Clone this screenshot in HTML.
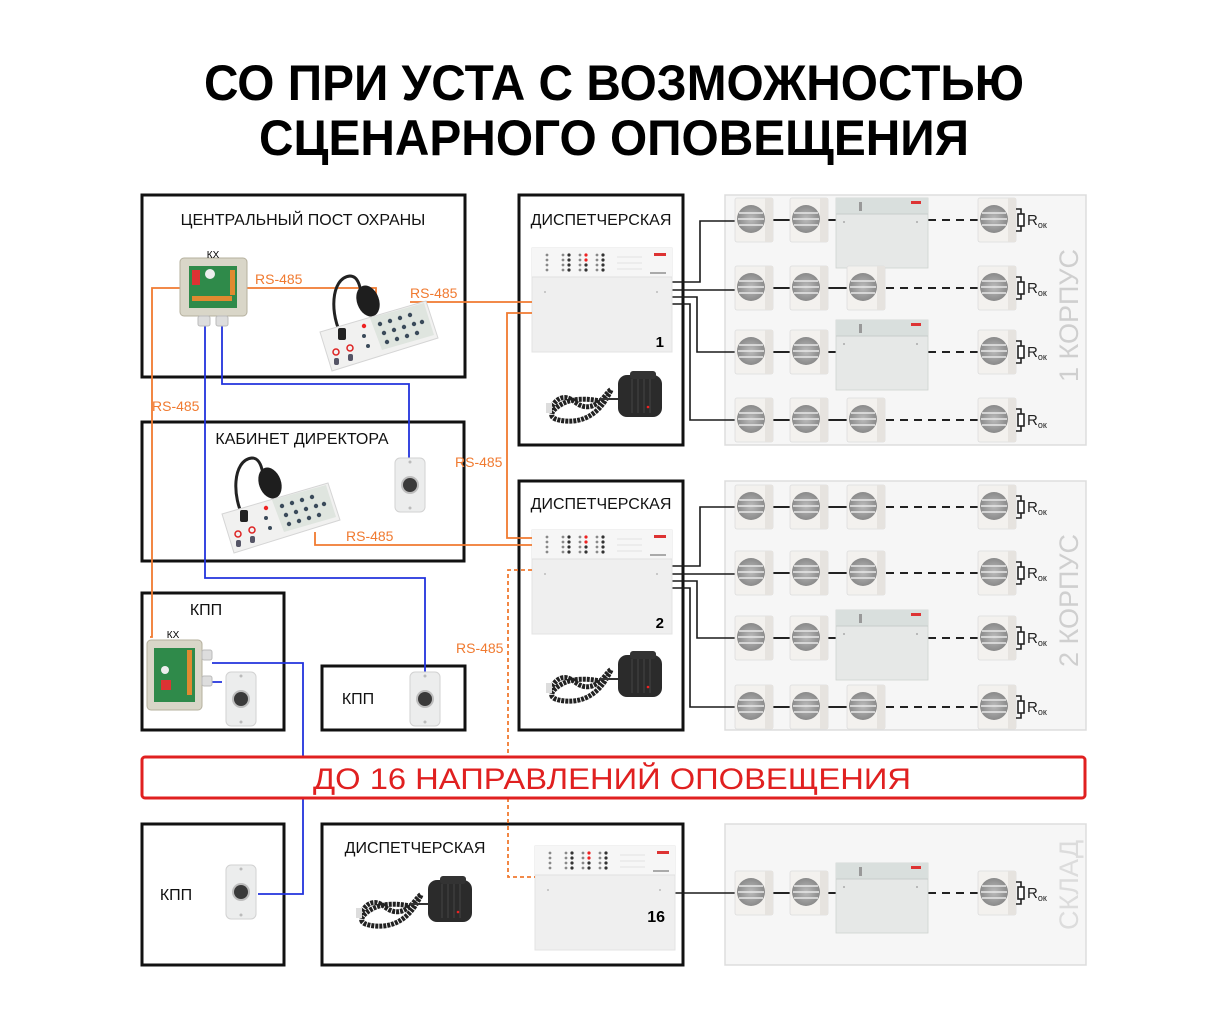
<!DOCTYPE html>
<html><head><meta charset="utf-8"><style>
html,body{margin:0;padding:0;background:#fff;}
svg{display:block;}
text{font-family:"Liberation Sans","DejaVu Sans",sans-serif;}
</style></head><body>
<svg width="1229" height="1024" viewBox="0 0 1229 1024" xmlns="http://www.w3.org/2000/svg">
<defs>
  <radialGradient id="spg" cx="50%" cy="50%" r="50%">
    <stop offset="0" stop-color="#bbb"/><stop offset="1" stop-color="#8a8a8a"/>
  </radialGradient>
  <g id="spk">
    <rect x="0" y="-22" width="38" height="44" rx="2" fill="#f3f1ee" stroke="#ddd" stroke-width="0.8"/>
    <rect x="30" y="-22" width="8" height="44" fill="#e6e3df"/>
    <circle cx="16" cy="-1" r="14" fill="url(#spg)"/>
    <g stroke="#e8e8e8" stroke-width="1.6">
      <line x1="4" y1="-7" x2="28" y2="-7"/><line x1="3" y1="-1" x2="29" y2="-1"/><line x1="4" y1="5" x2="28" y2="5"/>
    </g>
  </g>
  <g id="rok">
    <path d="M0,-11 H5 V11 H0" fill="none" stroke="#222" stroke-width="1.6"/>
    <rect x="2" y="-6" width="6" height="12" fill="#fff" stroke="#222" stroke-width="1.6"/>
    <text x="11" y="5" font-size="15" fill="#222">R<tspan font-size="9" dy="3">ок</tspan></text>
  </g>
  <g id="amp">
    <rect x="0" y="0" width="92" height="70" fill="#e6e8e7" stroke="#cfd2d0" stroke-width="0.8"/>
    <rect x="0" y="0" width="92" height="16" fill="#d9dfdd"/>
    <line x1="0" y1="16" x2="92" y2="16" stroke="#c8cdcb"/>
    <rect x="23" y="4" width="3" height="9" fill="#999"/>
    <rect x="75" y="3" width="10" height="3" fill="#d33"/>
    <circle cx="8" cy="24" r="1" fill="#aaa"/><circle cx="81" cy="24" r="1" fill="#aaa"/>
  </g>
  <g id="panel">
    <rect x="0" y="0" width="140" height="104" fill="#efefef" stroke="#e3e3e3"/>
    <rect x="0" y="0" width="140" height="29" fill="#f6f6f6"/>
    <line x1="0" y1="29" x2="140" y2="29" stroke="#e0e0e0"/>
    <g fill="#888">
      <circle cx="15" cy="7" r="1.4"/><circle cx="15" cy="12" r="1.4"/><circle cx="15" cy="17" r="1.4"/><circle cx="15" cy="22" r="1.4"/>
      <circle cx="31" cy="7" r="1.4"/><circle cx="31" cy="12" r="1.4"/><circle cx="31" cy="17" r="1.4"/><circle cx="31" cy="22" r="1.4"/>
      <circle cx="37" cy="7" r="1.6" fill="#333"/><circle cx="37" cy="12" r="1.6" fill="#333"/><circle cx="37" cy="17" r="1.6" fill="#333"/><circle cx="37" cy="22" r="1.6" fill="#333"/>
      <circle cx="48" cy="7" r="1.4"/><circle cx="48" cy="12" r="1.4"/><circle cx="48" cy="17" r="1.4"/><circle cx="48" cy="22" r="1.4"/>
      <circle cx="54" cy="7" r="1.6" fill="#e22"/><circle cx="54" cy="12" r="1.6" fill="#e22"/><circle cx="54" cy="17" r="1.6" fill="#333"/><circle cx="54" cy="22" r="1.6" fill="#333"/>
      <circle cx="65" cy="7" r="1.4"/><circle cx="65" cy="12" r="1.4"/><circle cx="65" cy="17" r="1.4"/><circle cx="65" cy="22" r="1.4"/>
      <circle cx="71" cy="7" r="1.6" fill="#333"/><circle cx="71" cy="12" r="1.6" fill="#333"/><circle cx="71" cy="17" r="1.6" fill="#333"/><circle cx="71" cy="22" r="1.6" fill="#333"/>
    </g>
    <g stroke="#ccc" stroke-width="0.6"><line x1="85" y1="9" x2="110" y2="9"/><line x1="85" y1="15" x2="110" y2="15"/><line x1="85" y1="21" x2="110" y2="21"/></g>
    <rect x="122" y="5" width="12" height="3" fill="#d33"/>
    <rect x="118" y="24" width="16" height="2" fill="#aaa"/>
    <circle cx="13" cy="44" r="1" fill="#bbb"/><circle cx="125" cy="44" r="1" fill="#bbb"/>
  </g>
  <g id="mic">
    <path d="M10,45 q10,-20 25,-8 q15,12 30,-6 q12,-15 0,5 q-15,22 -40,20 q-20,-2 -10,-12 q15,-14 45,-8" fill="none" stroke="#222" stroke-width="5" stroke-dasharray="3 1"/>
    <path d="M60,34 H80" stroke="#333" stroke-width="2"/>
    <rect x="6" y="38" width="6" height="10" fill="#ddd"/>
    <rect x="78" y="10" width="44" height="42" rx="9" fill="#2b2b2b"/>
    <rect x="90" y="6" width="26" height="8" rx="3" fill="#333"/>
    <g stroke="#444" stroke-width="1"><line x1="92" y1="14" x2="92" y2="48"/><line x1="98" y1="14" x2="98" y2="48"/><line x1="104" y1="14" x2="104" y2="48"/><line x1="110" y1="14" x2="110" y2="48"/></g>
    <circle cx="108" cy="42" r="1.3" fill="#e22"/>
  </g>
  <g id="btn">
    <rect x="0" y="0" width="30" height="54" rx="5" fill="#eceded" stroke="#d2d2d2"/>
    <circle cx="15" cy="4" r="1.5" fill="#bbb"/><circle cx="15" cy="50" r="1.5" fill="#bbb"/>
    <circle cx="15" cy="27" r="9" fill="#bdbdbd"/>
    <circle cx="15" cy="27" r="7" fill="#3a3a3a"/>
  </g>
  <g id="kx">
    <rect x="0" y="0" width="67" height="58" rx="4" fill="#d9d6c8" stroke="#b5b09e"/>
    <rect x="9" y="8" width="48" height="42" fill="#2f8a4a"/>
    <rect x="12" y="12" width="8" height="15" fill="#d33"/>
    <circle cx="30" cy="16" r="5" fill="#eee"/>
    <g fill="#e08a30"><rect x="12" y="38" width="40" height="5"/><rect x="50" y="12" width="5" height="25"/></g>
    <rect x="18" y="58" width="12" height="10" rx="2" fill="#ddd" stroke="#bbb"/>
    <rect x="36" y="58" width="12" height="10" rx="2" fill="#ddd" stroke="#bbb"/>
  </g>
  <g id="kx2">
    <rect x="0" y="0" width="55" height="70" rx="4" fill="#d9d6c8" stroke="#b5b09e"/>
    <rect x="7" y="8" width="41" height="54" fill="#2f8a4a"/>
    <rect x="14" y="40" width="10" height="10" fill="#d33"/>
    <circle cx="18" cy="30" r="4" fill="#eee"/>
    <rect x="40" y="10" width="5" height="45" fill="#e08a30"/>
    <rect x="55" y="10" width="10" height="10" rx="2" fill="#ddd" stroke="#bbb"/>
    <rect x="55" y="36" width="10" height="10" rx="2" fill="#ddd" stroke="#bbb"/>
  </g>
  <g id="console">
    <path d="M22,40 C10,20 10,-18 30,-20 C38,-20 40,-10 42,0" fill="none" stroke="#222" stroke-width="3"/>
    <ellipse cx="48" cy="5" rx="11" ry="16" transform="rotate(-20 48 5)" fill="#1e1e1e"/>
    <polygon points="0,36 106,5 118,42 12,75" fill="#f1f1f0" stroke="#d5d5d5"/>
    <polygon points="50,22 104,7 114,39 62,54" fill="#dfe5df"/>
    <rect x="18" y="32" width="8" height="12" rx="2" fill="#222"/>
    <g fill="#3a4a5a">
      <circle cx="60" cy="28" r="2.2"/><circle cx="70" cy="25" r="2.2"/><circle cx="80" cy="22" r="2.2"/><circle cx="90" cy="19" r="2.2"/>
      <circle cx="64" cy="37" r="2.2"/><circle cx="74" cy="34" r="2.2"/><circle cx="84" cy="31" r="2.2"/><circle cx="94" cy="28" r="2.2"/>
      <circle cx="67" cy="46" r="2.2"/><circle cx="77" cy="43" r="2.2"/><circle cx="87" cy="40" r="2.2"/><circle cx="97" cy="37" r="2.2"/><circle cx="102" cy="26" r="2.2"/>
      <circle cx="44" cy="40" r="2"/><circle cx="48" cy="50" r="2"/>
    </g>
    <circle cx="44" cy="30" r="2.2" fill="#e22"/>
    <circle cx="16" cy="56" r="3" fill="none" stroke="#d22" stroke-width="1.5"/><circle cx="30" cy="52" r="3" fill="none" stroke="#d22" stroke-width="1.5"/>
    <rect x="14" y="62" width="5" height="7" rx="2" fill="#556"/><rect x="28" y="58" width="5" height="7" rx="2" fill="#556"/>
  </g>
</defs>

<!-- Title -->
<text x="614" y="100" font-size="50" font-weight="bold" text-anchor="middle" textLength="820" lengthAdjust="spacingAndGlyphs" fill="#000">СО ПРИ УСТА С ВОЗМОЖНОСТЬЮ</text>
<text x="614" y="155" font-size="50" font-weight="bold" text-anchor="middle" textLength="710" lengthAdjust="spacingAndGlyphs" fill="#000">СЦЕНАРНОГО ОПОВЕЩЕНИЯ</text>

<!-- Building areas -->
<rect x="725" y="195" width="361" height="250" fill="#f6f6f6" stroke="#ddd" stroke-width="1.5"/>
<rect x="725" y="481" width="361" height="249" fill="#f6f6f6" stroke="#ddd" stroke-width="1.5"/>
<rect x="725" y="824" width="361" height="141" fill="#f6f6f6" stroke="#ddd" stroke-width="1.5"/>
<text transform="translate(1078,382) rotate(-90)" font-size="27" fill="#cfcfcf">1 КОРПУС</text>
<text transform="translate(1078,667) rotate(-90)" font-size="27" fill="#cfcfcf">2 КОРПУС</text>
<text transform="translate(1078,930) rotate(-90)" font-size="27" fill="#dcdcdc">СКЛАД</text>

<!-- Black boxes -->
<g fill="none" stroke="#111" stroke-width="3">
  <rect x="142" y="195" width="323" height="182"/>
  <rect x="519" y="195" width="164" height="250"/>
  <rect x="142" y="422" width="322" height="139"/>
  <rect x="519" y="481" width="164" height="249"/>
  <rect x="142" y="593" width="142" height="137"/>
  <rect x="322" y="666" width="143" height="64"/>
  <rect x="142" y="824" width="142" height="141"/>
  <rect x="322" y="824" width="361" height="141"/>
</g>

<g font-size="16" fill="#111">
  <text x="303" y="225" text-anchor="middle">ЦЕНТРАЛЬНЫЙ ПОСТ ОХРАНЫ</text>
  <text x="601" y="225" text-anchor="middle">ДИСПЕТЧЕРСКАЯ</text>
  <text x="302" y="444" text-anchor="middle">КАБИНЕТ ДИРЕКТОРА</text>
  <text x="601" y="509" text-anchor="middle">ДИСПЕТЧЕРСКАЯ</text>
  <text x="206" y="615" text-anchor="middle">КПП</text>
  <text x="358" y="704" text-anchor="middle">КПП</text>
  <text x="176" y="900" text-anchor="middle">КПП</text>
  <text x="415" y="853" text-anchor="middle">ДИСПЕТЧЕРСКАЯ</text>
</g>

<g fill="none" stroke="#1a1a1a" stroke-width="1.6">
  <path d="M671,282 H700 V221 H735"/>
  <path d="M671,290 H735"/>
  <path d="M671,297 H697 V352 H735"/>
  <path d="M671,304 H690 V420 H735"/>
  <path d="M671,566 H700 V507 H735"/>
  <path d="M671,574 H735"/>
  <path d="M671,581 H697 V638 H735"/>
  <path d="M671,588 H690 V707 H735"/>
  <path d="M672,893 H735"/>
</g>

<g stroke="#222" stroke-width="2">
  <line x1="772" y1="220" x2="790" y2="220"/><line x1="828" y1="220" x2="836" y2="220"/>
  <line x1="772" y1="288" x2="790" y2="288"/><line x1="828" y1="288" x2="847" y2="288"/>
  <line x1="772" y1="352" x2="790" y2="352"/><line x1="828" y1="352" x2="836" y2="352"/>
  <line x1="772" y1="420" x2="790" y2="420"/><line x1="828" y1="420" x2="847" y2="420"/>
  <line x1="772" y1="507" x2="790" y2="507"/><line x1="828" y1="507" x2="847" y2="507"/>
  <line x1="772" y1="573" x2="790" y2="573"/><line x1="828" y1="573" x2="847" y2="573"/>
  <line x1="772" y1="638" x2="790" y2="638"/><line x1="828" y1="638" x2="836" y2="638"/>
  <line x1="772" y1="707" x2="790" y2="707"/><line x1="828" y1="707" x2="847" y2="707"/>
  <line x1="772" y1="893" x2="790" y2="893"/><line x1="828" y1="893" x2="836" y2="893"/>
</g>
<g stroke="#222" stroke-width="2" stroke-dasharray="8 6">
  <line x1="928" y1="220" x2="978" y2="220"/>
  <line x1="886" y1="288" x2="978" y2="288"/>
  <line x1="928" y1="352" x2="978" y2="352"/>
  <line x1="886" y1="420" x2="978" y2="420"/>
  <line x1="886" y1="507" x2="978" y2="507"/>
  <line x1="886" y1="573" x2="978" y2="573"/>
  <line x1="928" y1="638" x2="978" y2="638"/>
  <line x1="886" y1="707" x2="978" y2="707"/>
  <line x1="928" y1="893" x2="978" y2="893"/>
</g>

<use href="#spk" x="735" y="220"/><use href="#spk" x="790" y="220"/><use href="#amp" x="836" y="198"/><use href="#spk" x="978" y="220"/><use href="#rok" x="1016" y="220"/>
<use href="#spk" x="735" y="288"/><use href="#spk" x="790" y="288"/><use href="#spk" x="847" y="288"/><use href="#spk" x="978" y="288"/><use href="#rok" x="1016" y="288"/>
<use href="#spk" x="735" y="352"/><use href="#spk" x="790" y="352"/><use href="#amp" x="836" y="320"/><use href="#spk" x="978" y="352"/><use href="#rok" x="1016" y="352"/>
<use href="#spk" x="735" y="420"/><use href="#spk" x="790" y="420"/><use href="#spk" x="847" y="420"/><use href="#spk" x="978" y="420"/><use href="#rok" x="1016" y="420"/>

<use href="#spk" x="735" y="507"/><use href="#spk" x="790" y="507"/><use href="#spk" x="847" y="507"/><use href="#spk" x="978" y="507"/><use href="#rok" x="1016" y="507"/>
<use href="#spk" x="735" y="573"/><use href="#spk" x="790" y="573"/><use href="#spk" x="847" y="573"/><use href="#spk" x="978" y="573"/><use href="#rok" x="1016" y="573"/>
<use href="#spk" x="735" y="638"/><use href="#spk" x="790" y="638"/><use href="#amp" x="836" y="610"/><use href="#spk" x="978" y="638"/><use href="#rok" x="1016" y="638"/>
<use href="#spk" x="735" y="707"/><use href="#spk" x="790" y="707"/><use href="#spk" x="847" y="707"/><use href="#spk" x="978" y="707"/><use href="#rok" x="1016" y="707"/>

<use href="#spk" x="735" y="893"/><use href="#spk" x="790" y="893"/><use href="#amp" x="836" y="863"/><use href="#spk" x="978" y="893"/><use href="#rok" x="1016" y="893"/>

<use href="#panel" x="532" y="248"/>
<text x="664" y="347" font-size="15" font-weight="bold" text-anchor="end">1</text>
<use href="#panel" x="532" y="530"/>
<text x="664" y="628" font-size="15" font-weight="bold" text-anchor="end">2</text>
<use href="#panel" x="535" y="846"/>
<text x="665" y="922" font-size="16" font-weight="bold" text-anchor="end">16</text>

<use href="#mic" x="540" y="365"/>
<use href="#mic" x="540" y="645"/>
<use href="#mic" x="350" y="870"/>

<g fill="none" stroke="#f07a30" stroke-width="1.8">
  <path d="M180,288 H152 V637 H150"/>
  <path d="M247,288 H376 V300"/>
  <path d="M410,302 H532"/>
  <path d="M532,313 H507 V538 H532"/>
  <path d="M315,532 V545 H532"/>
</g>
<path d="M532,570 H508 V877 H535" fill="none" stroke="#f07a30" stroke-width="1.8" stroke-dasharray="4 3"/>
<g font-size="14" fill="#f07a30">
  <text x="255" y="284">RS-485</text>
  <text x="410" y="298">RS-485</text>
  <text x="152" y="411">RS-485</text>
  <text x="455" y="467">RS-485</text>
  <text x="346" y="541">RS-485</text>
  <text x="456" y="653">RS-485</text>
</g>

<g fill="none" stroke="#2233dd" stroke-width="1.8">
  <path d="M205,322 V578 H425 V690"/>
  <path d="M222,322 V384 H409 V460"/>
  <path d="M212,663 H303 V894 H258"/>
  <path d="M205,682 H222"/>
</g>

<use href="#kx" x="180" y="258"/>
<text x="213" y="258" font-size="10" text-anchor="middle">КХ</text>
<use href="#console" x="320" y="296"/>
<use href="#console" x="222" y="478"/>
<use href="#btn" x="395" y="458"/>
<use href="#kx2" x="147" y="640"/>
<text x="173" y="638" font-size="10" text-anchor="middle">КХ</text>
<use href="#btn" x="226" y="672"/>
<use href="#btn" x="410" y="672"/>
<use href="#btn" x="226" y="865"/>

<rect x="142" y="757" width="943" height="41" rx="3" fill="#fff" stroke="#e02020" stroke-width="3"/>
<text x="612" y="789" font-size="30" fill="#e02020" text-anchor="middle" textLength="598" lengthAdjust="spacingAndGlyphs">ДО 16 НАПРАВЛЕНИЙ ОПОВЕЩЕНИЯ</text>
</svg>
</body></html>
